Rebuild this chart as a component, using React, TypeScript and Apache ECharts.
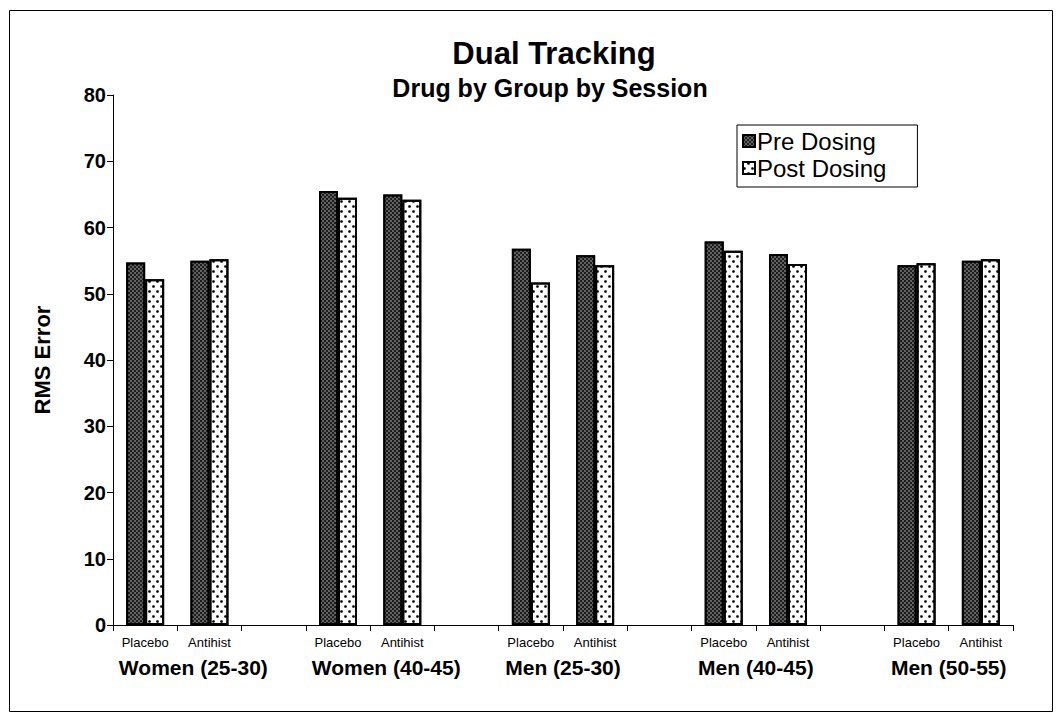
import React, { useEffect, useRef } from 'react';
import * as echarts from 'echarts';

// ---- data ----
const groups = ['Women (25-30)', 'Women (40-45)', 'Men (25-30)', 'Men (40-45)', 'Men (50-55)'];
const drugs = ['Placebo', 'Antihist'];
const seriesNames = ['Pre Dosing', 'Post Dosing'];
// values per group: [Placebo, Antihist]
const preDosing = [
  [54.7, 55.0],
  [65.5, 65.0],
  [56.8, 55.8],
  [57.9, 56.0],
  [54.3, 55.0],
];
const postDosing = [
  [52.2, 55.2],
  [64.5, 64.2],
  [51.7, 54.3],
  [56.5, 54.5],
  [54.6, 55.2],
];
const yMin = 0;
const yMax = 80;
const yInterval = 10;

const titleText = 'Dual Tracking';
const subtitleText = 'Drug by Group by Session';
const yAxisName = 'RMS Error';

const FONT = '"Liberation Sans", Arial, Helvetica, sans-serif';

// build category axis (blank slot between groups)
const categories: string[] = [];
const preFlat: (number | string)[] = [];
const postFlat: (number | string)[] = [];
groups.forEach((g, gi) => {
  drugs.forEach((d, di) => {
    categories.push(g + '|' + d);
    preFlat.push(preDosing[gi][di]);
    postFlat.push(postDosing[gi][di]);
  });
  if (gi < groups.length - 1) {
    categories.push(g + '|');
    preFlat.push('-');
    postFlat.push('-');
  }
});
// group label positions on a 0..N value scale aligned with category boundaries
const groupLabelShift = [0.25, 0.25, 0, 0, 0];
const groupLabelMap: Record<number, string> = {};
groups.forEach((g, gi) => {
  const pos = gi * 3 + 1 + groupLabelShift[gi];
  groupLabelMap[Math.round(pos * 4)] = g;
});

export default function App() {
  const ref = useRef<HTMLDivElement>(null);
  useEffect(() => {
    document.body.style.margin = '0';
    const chart = echarts.init(ref.current!, null, { renderer: 'svg' });
    chart.setOption({
      animation: false,
      backgroundColor: '#fff',
      textStyle: { fontFamily: FONT, color: '#000' },
      graphic: [
        {
          type: 'rect',
          shape: { x: 9.5, y: 10.5, width: 1043, height: 701 },
          style: { fill: 'none', stroke: '#000', lineWidth: 1 },
          silent: true,
        },
        {
          type: 'text',
          x: 554,
          y: 53,
          style: {
            text: titleText,
            fontFamily: FONT,
            fontSize: 31,
            fontWeight: 'bold',
            fill: '#000',
            align: 'center',
            verticalAlign: 'middle',
          },
        },
        {
          type: 'text',
          x: 550,
          y: 88,
          style: {
            text: subtitleText,
            fontFamily: FONT,
            fontSize: 25,
            fontWeight: 'bold',
            fill: '#000',
            align: 'center',
            verticalAlign: 'middle',
          },
        },
      ],
      legend: {
        data: seriesNames,
        orient: 'vertical',
        left: 737,
        top: 125,
        backgroundColor: '#fff',
        borderColor: '#000',
        borderWidth: 1,
        borderRadius: 0,
        padding: [4, 31, 7, 5],
        itemGap: 3,
        itemWidth: 12,
        itemHeight: 12,
        icon: 'rect',
        textStyle: {
          fontFamily: FONT,
          fontSize: 24,
          color: '#000',
          padding: [0, 0, 0, -3],
        },
      },
      grid: { left: 113, right: 47, top: 95, bottom: 98, containLabel: false },
      xAxis: [
        {
          type: 'category',
          data: categories,
          boundaryGap: true,
          axisLine: { lineStyle: { color: '#000', width: 1 } },
          axisTick: { show: true, interval: 0, length: 6, lineStyle: { color: '#000' } },
          axisLabel: {
            interval: 0,
            margin: 11,
            fontFamily: FONT,
            fontSize: 13,
            color: '#000',
            formatter: (v: string) => v.split('|')[1] || '',
          },
          splitLine: { show: false },
        },
        {
          type: 'value',
          min: 0,
          max: categories.length,
          interval: 0.25,
          position: 'bottom',
          axisLine: { show: false },
          axisTick: { show: false },
          splitLine: { show: false },
          axisLabel: {
            margin: 32,
            fontFamily: FONT,
            fontSize: 21,
            fontWeight: 'bold',
            color: '#000',
            showMinLabel: true,
            showMaxLabel: true,
            formatter: (v: number) => groupLabelMap[Math.round(v * 4)] || '',
          },
        },
      ],
      yAxis: {
        type: 'value',
        min: yMin,
        max: yMax,
        interval: yInterval,
        name: yAxisName,
        nameLocation: 'middle',
        nameGap: 60,
        nameTextStyle: { fontFamily: FONT, fontSize: 22, fontWeight: 'bold', color: '#000' },
        axisLine: { show: true, lineStyle: { color: '#000', width: 1 } },
        axisTick: { show: true, length: 6, lineStyle: { color: '#000' } },
        axisLabel: { margin: 7, fontFamily: FONT, fontSize: 20, fontWeight: 'bold', color: '#000' },
        splitLine: { show: false },
      },
      series: [
        {
          name: seriesNames[0],
          type: 'bar',
          xAxisIndex: 0,
          data: preFlat,
          barWidth: 19,
          barGap: '0%',
          itemStyle: {
            color: '#1e1e1e',
            borderColor: '#000',
            borderWidth: 2,
            decal: {
              symbol: 'rect',
              color: '#ffffff',
              symbolSize: 0.6,
              dashArrayX: [[2, 2], [0, 2, 2, 0]],
              dashArrayY: [2, 0],
              rotation: 0,
            },
          },
        },
        {
          name: seriesNames[1],
          type: 'bar',
          xAxisIndex: 0,
          data: postFlat,
          barWidth: 19,
          barGap: '0%',
          itemStyle: {
            color: '#ffffff',
            borderColor: '#000',
            borderWidth: 2,
            decal: {
              symbol: 'circle',
              color: '#000',
              symbolSize: 0.9,
              dashArrayX: [[3, 5], [0, 4, 3, 1]],
              dashArrayY: [3, 2],
              rotation: 0,
            },
          },
        },
      ],
    });
    return () => chart.dispose();
  }, []);
  return <div ref={ref} style={{ width: 1060, height: 723 }} />;
}
